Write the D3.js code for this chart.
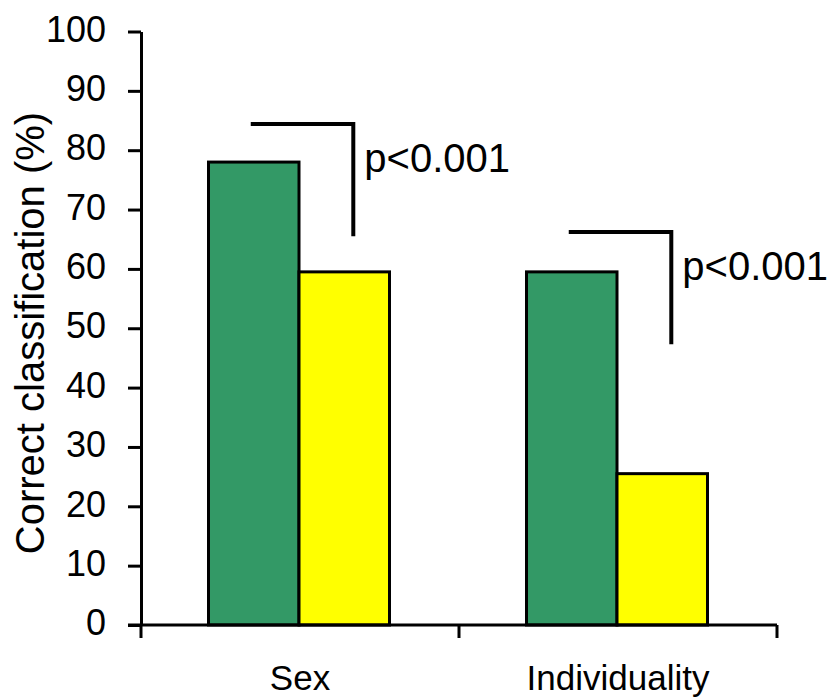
<!DOCTYPE html>
<html>
<head>
<meta charset="utf-8">
<script src="https://d3js.org/d3.v7.min.js"></script>
<style>
    body { margin: 0; background: #fff; }
    text { font-family: "Liberation Sans", Arial, sans-serif; fill: #000; }
</style>
</head>
<body>
<script>
    // chart values
    let categories = ["Sex", "Individuality"];
    let series = ["green", "yellow"];
    let greenValues = [78, 59.5];
    let yellowValues = [59.5, 25.5];
    let yTicks = [0, 10, 20, 30, 40, 50, 60, 70, 80, 90, 100];
    let sigLabels = ["p<0.001", "p<0.001"];
    let sigTop = [84.4, 66.2];     // bracket horizontal level
    let sigBottom = [65.5, 47.3];  // bracket vertical end

    let width = 830, height = 698;
    let colors = {green: "#339966", yellow: "#FFFF00"};

    let svg = d3.select("body").append("svg")
        .attr("width", width)
        .attr("height", height);

    let y = d3.scaleLinear().domain([0, 100]).range([625, 31.5]);
    let x = d3.scaleBand().domain(categories).range([141, 777]).padding(0);
    let x1 = d3.scaleBand().domain(series).range([67.5, 248.5]).padding(0);

    // bars
    let rows = categories.map((c, i) => ({cat: c, vals: [
        {key: "green", v: greenValues[i]},
        {key: "yellow", v: yellowValues[i]}
    ]}));

    let groups = svg.selectAll(".grp").data(rows).enter().append("g")
        .attr("transform", d => `translate(${x(d.cat)},0)`);

    groups.selectAll("rect").data(d => d.vals).enter().append("rect")
        .attr("x", d => x1(d.key))
        .attr("y", d => y(d.v))
        .attr("width", x1.bandwidth())
        .attr("height", d => y(0) - y(d.v))
        .attr("fill", d => colors[d.key])
        .attr("stroke", "#000")
        .attr("stroke-width", 3);

    // significance brackets
    groups.each(function(d, i) {
        let g = d3.select(this);
        let xs = x1("green") + x1.bandwidth() / 2 - 3;
        let xc = x1("yellow") + x1.bandwidth() * 0.6;
        g.append("path")
            .attr("d", `M${xs},${y(sigTop[i])}H${xc}V${y(sigBottom[i])}`)
            .attr("fill", "none")
            .attr("stroke", "#000")
            .attr("stroke-width", 4);
        g.append("text")
            .attr("x", xc + 11)
            .attr("y", y(sigTop[i]) + 48)
            .style("font-size", "40px")
            .text(sigLabels[i]);
    });

    // y axis
    let yAxis = svg.append("g")
        .attr("transform", "translate(141,0)")
        .call(d3.axisLeft(y).tickValues(yTicks).tickSize(13).tickPadding(22).tickSizeOuter(0));
    yAxis.select(".domain").attr("stroke-width", 3);
    yAxis.selectAll(".tick line").attr("stroke-width", 3);
    yAxis.selectAll(".tick text")
        .style("font-size", "36px")
        .attr("dy", "0.27em");

    // x axis: ticks at the category boundaries
    let xAxisG = svg.append("g").attr("transform", `translate(0,${y(0)})`);
    xAxisG.append("line")
        .attr("x1", 128).attr("x2", x.range()[1])
        .attr("stroke", "#000").attr("stroke-width", 3);
    let bounds = categories.map(c => x(c)).concat([x.range()[1]]);
    xAxisG.selectAll(".xt").data(bounds).enter().append("line")
        .attr("x1", d => d).attr("x2", d => d)
        .attr("y1", 0).attr("y2", 13)
        .attr("stroke", "#000").attr("stroke-width", 3);
    xAxisG.selectAll(".xl").data(categories).enter().append("text")
        .attr("x", d => x(d) + x.bandwidth() / 2)
        .attr("y", 65)
        .attr("text-anchor", "middle")
        .style("font-size", "35px")
        .text(d => d);

    // y axis title
    svg.append("text")
        .attr("transform", "translate(44,333) rotate(-90)")
        .attr("text-anchor", "middle")
        .style("font-size", "40px")
        .text("Correct classification (%)");
</script>
</body>
</html>
